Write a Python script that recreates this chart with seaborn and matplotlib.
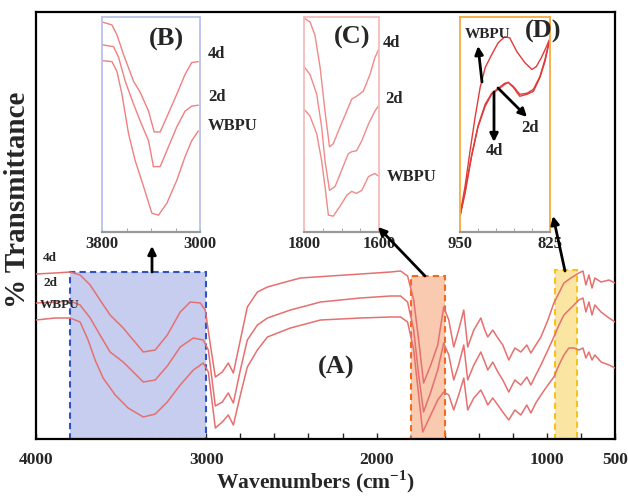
import numpy as np
import matplotlib.pyplot as plt
import seaborn as sns
from matplotlib.patches import Rectangle

sns.set_style("white")
plt.rcParams["font.family"] = ["Liberation Serif", "DejaVu Serif"]
plt.rcParams["font.weight"] = "bold"
plt.rcParams["mathtext.fontset"] = "custom"
plt.rcParams["mathtext.bf"] = "Liberation Serif:bold"
plt.rcParams["mathtext.rm"] = "Liberation Serif:bold"

# ---- main spectra (A) ----
wn_4d = [4000, 3888, 3800, 3741, 3682, 3624, 3565, 3488, 3429, 3370, 3300, 3229, 3153, 3094, 3035, 3006,
         2976, 2947, 2906, 2871, 2841, 2800, 2759, 2700, 2641, 2535, 2447, 2271, 2094, 1918, 1859, 1818,
         1782, 1753, 1724, 1682, 1641, 1606, 1576, 1547, 1518, 1488, 1465, 1429, 1388, 1365, 1347, 1318,
         1288, 1259, 1224, 1188, 1153, 1118, 1094, 1065, 1035, 994, 959, 929, 900, 859, 812, 788, 771,
         753, 735, 718, 682, 635, 600]
t_4d = [165, 166, 167, 164, 154, 139, 124, 111, 99, 87, 89, 104, 127, 137, 136, 129,
        94, 62, 67, 76, 66, 99, 132, 147, 152, 157, 161, 163, 165, 167, 168, 163,
        139, 99, 56, 74, 94, 132, 119, 92, 109, 129, 92, 109, 121, 109, 102, 109,
        101, 94, 79, 91, 87, 94, 86, 94, 102, 119, 136, 146, 156, 161, 166, 168, 154,
        164, 151, 161, 157, 159, 156]

wn_2d = [4000, 3888, 3800, 3741, 3682, 3624, 3565, 3488, 3429, 3370, 3300, 3229, 3153, 3076, 3018, 2988,
         2947, 2906, 2871, 2841, 2800, 2759, 2700, 2641, 2506, 2329, 2094, 1918, 1859, 1818,
         1782, 1753, 1724, 1682, 1641, 1606, 1576, 1547, 1518, 1488, 1465, 1429, 1388, 1365, 1347, 1318,
         1288, 1259, 1224, 1188, 1153, 1118, 1094, 1065, 1035, 994, 959, 929, 900, 859, 812, 788, 771,
         753, 735, 718, 682, 635, 600]
t_2d = [136, 137, 138, 134, 121, 104, 87, 77, 67, 57, 59, 73, 92, 101, 99, 89,
        33, 37, 46, 36, 69, 99, 114, 121, 129, 137, 141, 143, 143, 137,
        109, 64, 27, 47, 69, 96, 84, 59, 74, 94, 59, 74, 87, 77, 69, 77,
        67, 59, 47, 59, 54, 62, 54, 64, 74, 89, 102, 114, 124, 131, 139, 141, 127,
        137, 124, 134, 127, 121, 117]

wn_wbpu = [4000, 3888, 3800, 3741, 3694, 3653, 3606, 3535, 3459, 3370, 3300, 3229, 3153, 3076, 3018, 2988,
           2947, 2906, 2871, 2841, 2800, 2759, 2700, 2641, 2506, 2329, 2094, 1918, 1859, 1818,
           1782, 1753, 1729, 1682, 1641, 1606, 1576, 1547, 1518, 1488, 1465, 1429, 1388, 1365, 1347, 1318,
           1288, 1259, 1224, 1188, 1153, 1118, 1094, 1065, 1035, 994, 959, 929, 900, 871, 841, 812, 788, 771,
           753, 735, 718, 682, 635, 600]
t_wbpu = [119, 121, 121, 117, 99, 79, 61, 44, 31, 22, 25, 37, 54, 69, 76, 67,
          11, 17, 24, 14, 44, 72, 89, 102, 111, 119, 121, 122, 122, 117,
          89, 44, 7, 24, 39, 47, 44, 29, 44, 61, 29, 41, 49, 41, 34, 41,
          34, 27, 19, 29, 24, 34, 26, 36, 44, 54, 62, 74, 84, 91, 91, 89, 91, 81,
          87, 79, 84, 77, 74, 71]

# ---- inset (B) 3800-3000 ----
b_wn_4d = [3800, 3719, 3678, 3624, 3542, 3488, 3420, 3374, 3325, 3271, 3190, 3122, 3068, 3014]
b_t_4d = [212, 209, 199, 179, 152, 141, 122, 101, 101, 116, 139, 159, 171, 172]
b_wn_2d = [3800, 3705, 3664, 3610, 3542, 3488, 3420, 3380, 3325, 3271, 3190, 3122, 3068, 3014]
b_t_2d = [189, 187, 176, 152, 129, 112, 92, 66, 66, 82, 106, 122, 127, 128]
b_wn_wbpu = [3800, 3719, 3678, 3637, 3583, 3529, 3461, 3393, 3339, 3271, 3190, 3122, 3068, 3014]
b_t_wbpu = [173, 172, 162, 139, 99, 72, 46, 19, 17, 29, 52, 76, 92, 102]

# ---- inset (C) 1800-1600 ----
c_wn_4d = [1800, 1784, 1771, 1757, 1744, 1732, 1722, 1704, 1686, 1673, 1660, 1642, 1624, 1611, 1600]
c_t_4d = [216, 212, 199, 166, 122, 86, 89, 106, 122, 134, 137, 142, 159, 176, 185]
c_wn_2d = [1800, 1784, 1766, 1753, 1744, 1732, 1717, 1700, 1682, 1673, 1660, 1646, 1628, 1611, 1600]
c_t_2d = [167, 159, 139, 106, 72, 42, 46, 62, 79, 81, 82, 92, 109, 122, 128]
c_wn_wbpu = [1800, 1784, 1766, 1753, 1744, 1735, 1722, 1704, 1686, 1673, 1660, 1646, 1628, 1611, 1600]
c_t_wbpu = [124, 117, 99, 72, 46, 17, 16, 26, 37, 41, 39, 42, 56, 59, 56]

# ---- inset (D) 950-825 ----
d_wn_wbpu = [950, 943, 936, 929, 922, 915, 906, 897, 888, 881, 871, 860, 850, 844, 837, 830, 826]
d_t_wbpu = [17, 46, 82, 116, 146, 166, 179, 191, 197, 196, 182, 171, 164, 167, 176, 187, 194]
d_wn_4d = [950, 943, 934, 925, 915, 906, 897, 888, 883, 876, 867, 857, 848, 839, 832, 826]
d_t_4d = [16, 39, 76, 106, 127, 139, 144, 149, 151, 146, 137, 139, 142, 156, 172, 192]
d_wn_2d = [950, 943, 934, 925, 915, 906, 897, 888, 883, 876, 867, 857, 848, 839, 832, 826]
d_t_2d = [16, 41, 77, 107, 129, 140, 145, 150, 151, 147, 139, 140, 144, 157, 174, 193]

main_ticks = [4000, 3000, 2000, 1000, 600]
main_tick_labels = ["4000", "3000", "2000", "1000", "500"]

W, H = 628, 498
fig = plt.figure(figsize=(W / 100, H / 100), dpi=100)


def box(px_l, px_t, px_w, px_h):
    return [px_l / W, 1 - (px_t + px_h) / H, px_w / W, px_h / H]


line_col = "#e5706f"

ax = fig.add_axes(box(36, 12, 579, 427))
ax.set_xlim(4000, 600)
ax.set_ylim(0, 427)

# highlighted regions
ax.add_patch(Rectangle((3000, 0), 800, 167, facecolor="#c6cdef", edgecolor="#2f52c0",
                       lw=1.5, ls=(0, (3, 2)), zorder=1))
ax.add_patch(Rectangle((1600, 0), 200, 163, facecolor="#f9c9b0", edgecolor="#f06a20",
                       lw=1.5, ls=(0, (3, 2)), zorder=1))
ax.add_patch(Rectangle((825, 0), 125, 169, facecolor="#fae6a2", edgecolor="#f6c21c",
                       lw=1.5, ls=(0, (3, 2)), zorder=1))

for xs, ys in [(wn_4d, t_4d), (wn_2d, t_2d), (wn_wbpu, t_wbpu)]:
    sns.lineplot(x=xs, y=ys, ax=ax, color=line_col, lw=1.1, sort=False, estimator=None, zorder=3)

ax.set_xticks(main_ticks)
ax.set_xticklabels(main_tick_labels, fontsize=12.5, fontweight="bold")
ax.set_xticks(np.arange(3800, 600, -200), minor=True)
ax.tick_params(axis="x", which="both", direction="in", length=4, width=1, bottom=True, pad=9)
ax.set_yticks([])
for s in ax.spines.values():
    s.set_color("black")
    s.set_linewidth(1.6)
ax.set_xlabel("Wavenumbers (cm$^{\\mathbf{-1}}$)", fontsize=15.5, fontweight="bold")
ax.xaxis.set_label_coords(0.482, -0.068)
ax.set_ylabel("% Transmittance", fontsize=21, fontweight="bold")
ax.yaxis.set_label_coords(-0.009, 0.56)


def make_inset(rect, xlim, frame, ticks, minor):
    a = fig.add_axes(rect)
    a.set_facecolor("white")
    a.set_xlim(*xlim)
    a.set_ylim(0, 217)
    for s in a.spines.values():
        s.set_color(frame)
        s.set_linewidth(1.3)
    a.spines["bottom"].set_color("#999999")
    a.spines["bottom"].set_linewidth(1.6)
    a.set_yticks([])
    a.set_xticks(ticks)
    a.set_xticklabels([str(t) for t in ticks], fontsize=12, fontweight="bold")
    a.set_xticks(minor, minor=True)
    a.tick_params(axis="x", which="both", direction="in", length=3, color="#999999", bottom=True, pad=3)
    return a


ax_b = make_inset(box(102, 17, 98, 215), (3800, 3000), "#b9c1e8", [3800, 3000], [3600, 3400, 3200])
for xs, ys in [(b_wn_4d, b_t_4d), (b_wn_2d, b_t_2d), (b_wn_wbpu, b_t_wbpu)]:
    sns.lineplot(x=xs, y=ys, ax=ax_b, color="#ef8080", lw=1.0, sort=False, estimator=None)

ax_c = make_inset(box(304, 17, 75, 215), (1800, 1600), "#f5bcbc", [1800, 1600], [1750, 1700, 1650])
for xs, ys in [(c_wn_4d, c_t_4d), (c_wn_2d, c_t_2d), (c_wn_wbpu, c_t_wbpu)]:
    sns.lineplot(x=xs, y=ys, ax=ax_c, color="#f08a8a", lw=1.0, sort=False, estimator=None)

ax_d = make_inset(box(460, 17, 90, 215), (950, 825), "#f6a940", [950, 825], [925, 900, 875, 850])
for xs, ys in [(d_wn_wbpu, d_t_wbpu), (d_wn_4d, d_t_4d), (d_wn_2d, d_t_2d)]:
    sns.lineplot(x=xs, y=ys, ax=ax_d, color="#e03a3a", lw=1.0, sort=False, estimator=None)

# overlay in pixel coordinates for labels and arrows
ov = fig.add_axes([0, 0, 1, 1])
ov.set_xlim(0, W)
ov.set_ylim(H, 0)
ov.axis("off")
ov.patch.set_alpha(0)

arrow = dict(arrowstyle="-|>", color="black", lw=2, mutation_scale=12, shrinkA=0, shrinkB=0)
for start, end in [((152, 272), (152, 246)), ((425, 276), (378, 227)), ((565, 271), (553, 216)),
                   ((482, 82), (478, 46)), ((494, 92), (494, 142)), ((498, 88), (527, 117))]:
    ov.annotate("", xy=end, xytext=start, arrowprops=arrow)

tx = dict(fontweight="bold", va="center")
ov.text(166, 39, "(B)", fontsize=19, ha="center", **tx)
ov.text(208, 54, "4d", fontsize=12, ha="left", **tx)
ov.text(208, 97, "2d", fontsize=12, ha="left", **tx)
ov.text(208, 126, "WBPU", fontsize=12, ha="left", **tx)
ov.text(352, 37, "(C)", fontsize=19, ha="center", **tx)
ov.text(383, 43, "4d", fontsize=12, ha="left", **tx)
ov.text(385, 99, "2d", fontsize=12, ha="left", **tx)
ov.text(387, 177, "WBPU", fontsize=12, ha="left", **tx)
ov.text(488, 34, "WBPU", fontsize=11, ha="center", **tx)
ov.text(543, 31, "(D)", fontsize=19, ha="center", **tx)
ov.text(494, 151, "4d", fontsize=12, ha="center", **tx)
ov.text(530, 128, "2d", fontsize=12, ha="center", **tx)
ov.text(336, 367, "(A)", fontsize=19, ha="center", **tx)
ov.text(43, 258, "4d", fontsize=9.5, ha="left", **tx)
ov.text(43, 283, "2d", fontsize=9.5, ha="left", **tx)
ov.text(40, 305, "WBPU", fontsize=9.5, ha="left", **tx)

fig.savefig("out.png", dpi=100)
